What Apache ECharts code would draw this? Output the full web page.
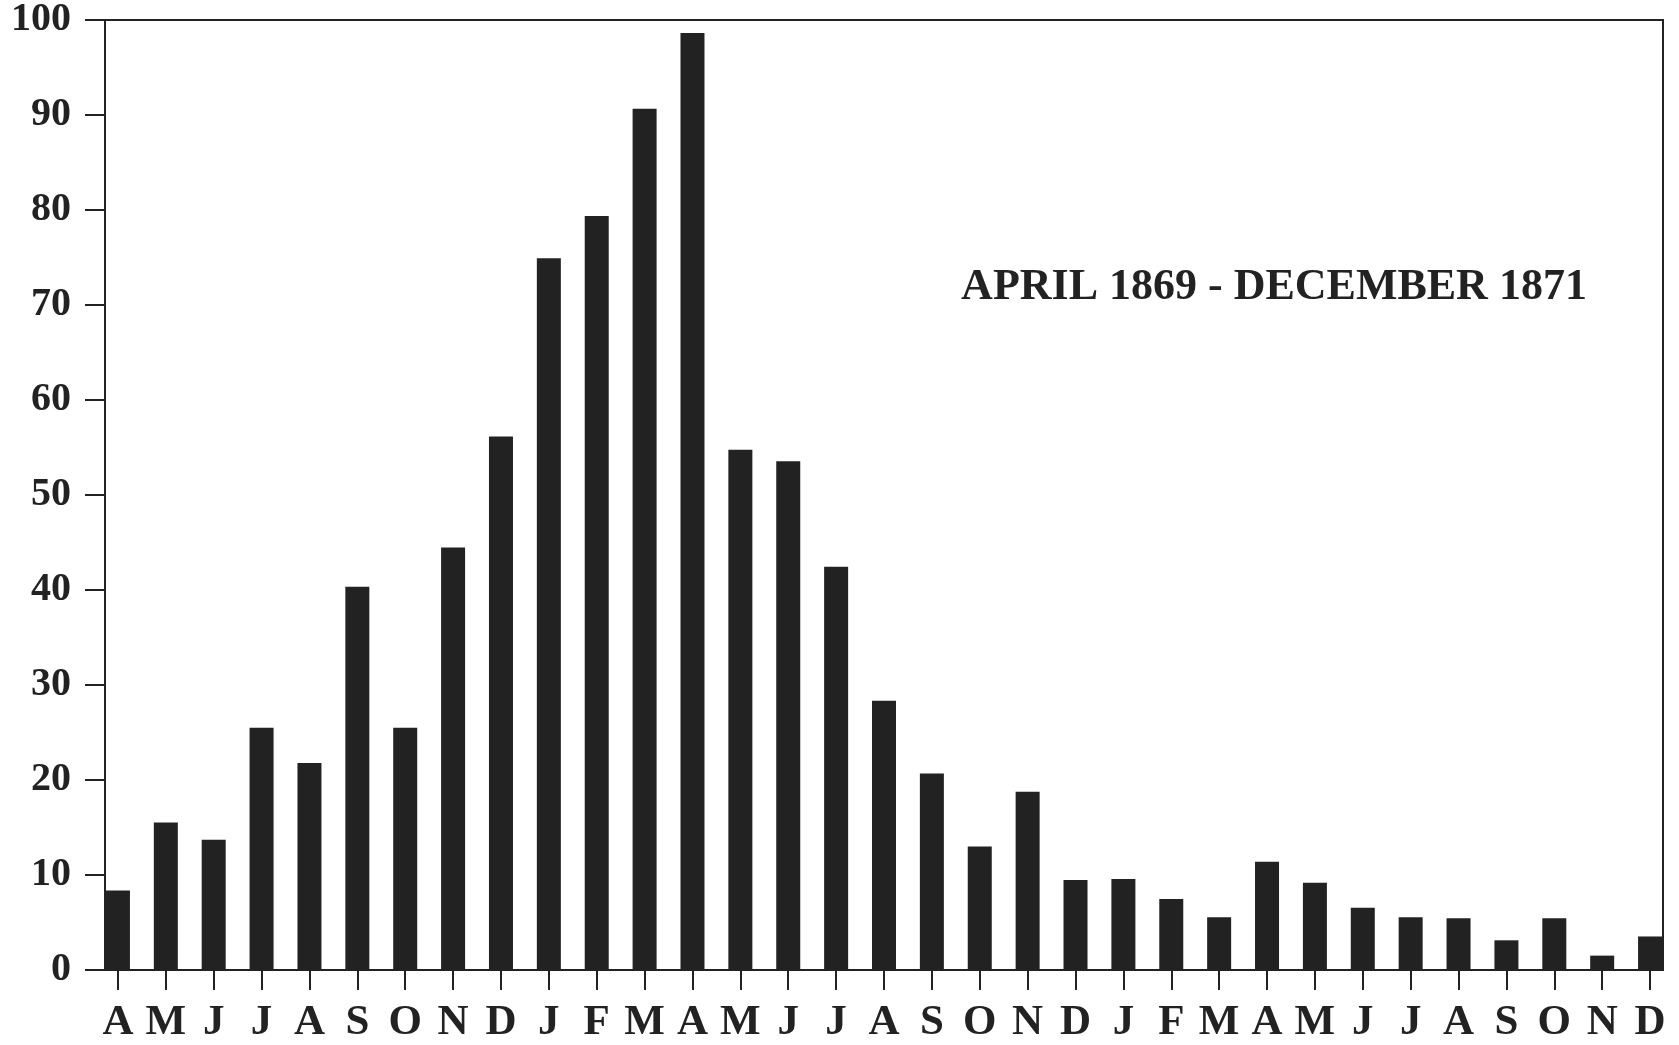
<!DOCTYPE html>
<html>
<head>
<meta charset="utf-8">
<style>
  html, body { margin: 0; padding: 0; background: #fff; }
  #chart { width: 1679px; height: 1045px; }
</style>
<script src="https://cdn.jsdelivr.net/npm/echarts@6/dist/echarts.min.js"></script>
</head>
<body>
<div id="chart"></div>
<script>
const months = ['1869-04','1869-05','1869-06','1869-07','1869-08','1869-09','1869-10','1869-11','1869-12',
  '1870-01','1870-02','1870-03','1870-04','1870-05','1870-06','1870-07','1870-08','1870-09','1870-10','1870-11','1870-12',
  '1871-01','1871-02','1871-03','1871-04','1871-05','1871-06','1871-07','1871-08','1871-09','1871-10','1871-11','1871-12'];
const monthLetters = ['A','M','J','J','A','S','O','N','D',
  'J','F','M','A','M','J','J','A','S','O','N','D',
  'J','F','M','A','M','J','J','A','S','O','N','D'];
const values = [8.3, 15.4, 13.6, 25.3, 21.6, 40.0, 25.3, 44.1, 55.7,
  74.3, 78.7, 89.9, 97.8, 54.3, 53.1, 42.1, 28.1, 20.5, 12.9, 18.6, 9.4,
  9.5, 7.4, 5.5, 11.3, 9.1, 6.5, 5.5, 5.4, 3.1, 5.4, 1.5, 3.5];
const yTicks = [0, 10, 20, 30, 40, 50, 60, 70, 80, 90, 100];
const title = 'APRIL 1869 - DECEMBER 1871';

const ink = '#222222';
const font = "'Liberation Serif', 'DejaVu Serif', serif";

const chart = echarts.init(document.getElementById('chart'), null, { renderer: 'canvas' });
chart.setOption({
  animation: false,
  backgroundColor: '#ffffff',
  title: {
    text: title,
    left: 1269, top: 261, textAlign: 'center',
    textStyle: { fontFamily: font, fontWeight: 'bold', fontSize: 44, color: ink }
  },
  grid: [
    { left: 94, right: 5, top: 12, bottom: 75, show: false },
    { left: 105, right: 16, top: 12, bottom: 75, show: true, borderColor: ink, borderWidth: 2, backgroundColor: 'transparent' }
  ],
  xAxis: [
    {
      type: 'category', gridIndex: 0, data: months, boundaryGap: true,
      axisLine: { show: false },
      axisTick: { show: true, alignWithLabel: true, length: 20, lineStyle: { color: ink, width: 2 } },
      axisLabel: {
        interval: 0, margin: 31,
        formatter: (v, i) => monthLetters[i],
        fontFamily: font, fontWeight: 'bold', fontSize: 43, color: ink
      },
      splitLine: { show: false }
    },
    {
      type: 'value', gridIndex: 1, min: 0, max: 1, show: false
    }
  ],
  yAxis: [
    { type: 'value', gridIndex: 0, min: 0, max: 100, show: false },
    {
      type: 'value', gridIndex: 1, min: 0, max: 100, interval: 10,
      axisLine: { show: true, lineStyle: { color: ink, width: 2 } },
      axisTick: { show: true, inside: false, length: 20, customValues: yTicks, lineStyle: { color: ink, width: 2 } },
      axisLabel: {
        margin: 34, fontFamily: font, fontWeight: 'bold', fontSize: 40, color: ink,
        customValues: yTicks
      },
      splitLine: { show: false }
    }
  ],
  series: [{
    type: 'bar', xAxisIndex: 0, yAxisIndex: 0,
    data: values, barWidth: 24,
    itemStyle: { color: ink },
    z: 3
  }]
});
</script>
</body>
</html>
